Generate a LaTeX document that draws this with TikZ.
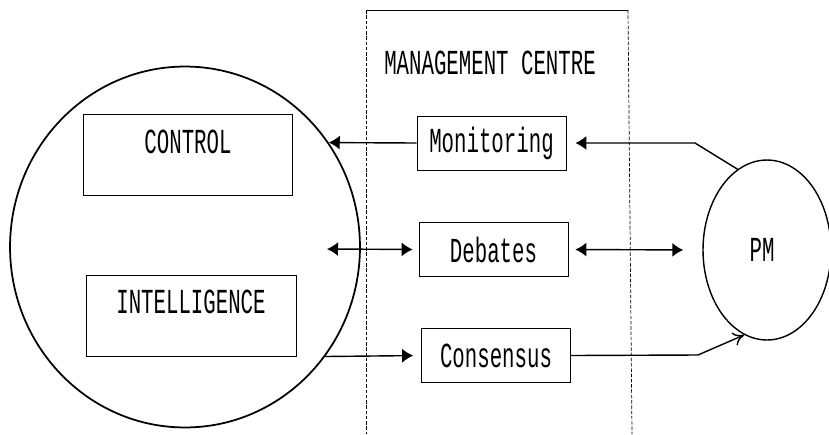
\documentclass[tikz,border=0pt]{standalone}
\usepackage{fontspec}
\newfontfamily\dotfont[FakeStretch=0.59]{Liberation Mono}
\usetikzlibrary{arrows.meta,shapes.geometric}

\begin{document}
\begin{tikzpicture}[x=0.02cm,y=-0.02cm,>={Latex[length=0.22cm,width=0.28cm]},
  box/.style={draw,thin,minimum width=2.98cm,minimum height=1.08cm,inner sep=0pt},
  txt/.style={font=\dotfont\fontsize{20}{20}\selectfont,inner sep=0pt},
  link/.style={line width=0.8pt}]

\useasboundingbox (0,0) rectangle (829,434);

% management centre, open at the bottom
\draw[thin] (366,10) -- (628,10);
\draw[thin,dash pattern=on 2pt off 1pt] (366,10) -- (366,434);
\draw[thin,dash pattern=on 2pt off 1pt] (628,10) -- (632,434);
\node[txt] (mc) at (490,63) {MANAGEMENT CENTRE};

% the organisation
\node[ellipse,draw,line width=1pt,minimum width=7cm,minimum height=7.22cm] (org) at (185,247) {};
\node[box,minimum width=4.18cm,minimum height=1.62cm] (ctl) at (188,155) {};
\node[txt] (ctltxt) at ([yshift=-0.56cm]ctl.north) {CONTROL};
\node[box,minimum width=4.2cm,minimum height=1.62cm] (int) at (191,316) {};
\node[txt] (inttxt) at ([yshift=-0.54cm]int.north) {INTELLIGENCE};

% the three boxes of the centre
\node[box] (mon) at (491.5,143) {};
\node[txt] (montxt) at (mon) {Monitoring};
\node[box] (deb) at (493.5,249.5) {};
\node[txt] (debtxt) at (deb) {Debates};
\node[box] (con) at (496,355.5) {};
\node[txt] (contxt) at (con) {Consensus};

% PM
\node[ellipse,draw,line width=0.8pt,minimum width=2.56cm,minimum height=3.6cm] (pm) at (767,250) {};
\node[txt] (pmtxt) at (762,250) {PM};

\coordinate (bendm) at (695,143);
\coordinate (bendc) at (698,355);
\coordinate (debl) at (327,249);

% connectors
\draw[link,->,shorten >=0.18cm] (pm.110) -- (bendm) -- (mon.east);
\draw[link,->] (mon.west) -- (org.36);
\draw[link,<->,shorten >=0.12cm] (debl) -- (deb.west);
\draw[link,<->,shorten <=0.14cm,shorten >=0.38cm] (deb.east) -- (pm.west);
\draw[link,->,shorten >=0.16cm] (org.-38) -- (con.west);
\draw[link,-{To[length=0.22cm,width=0.28cm]}] (con.east) -- (bendc) -- (pm.255);

\end{tikzpicture}
\end{document}
